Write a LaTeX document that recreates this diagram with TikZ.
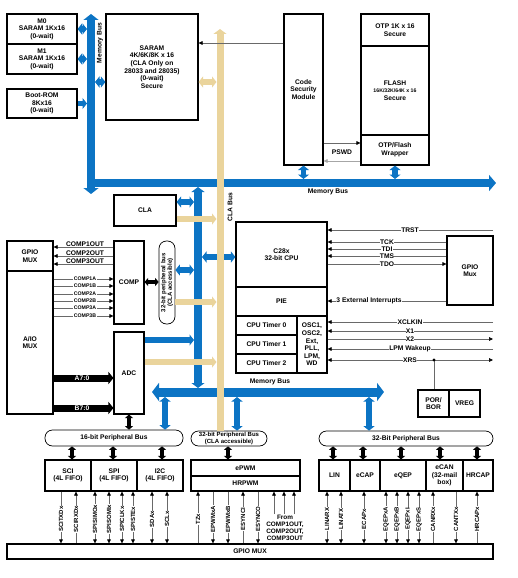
\documentclass[tikz,border=0pt]{standalone}
\usepackage{fontspec}
\setmainfont{Liberation Sans}
\usetikzlibrary{arrows.meta}
\definecolor{busblue}{RGB}{12,116,196}
\definecolor{bustan}{RGB}{234,212,156}
\definecolor{sig}{RGB}{105,105,105}
\newcommand{\mybox}[7][]{\node[box,#1,minimum width={#5-#3},minimum height={#6-#4}] (#2) at ({(#3+#5)/2},{(#4+#6)/2}) {#7};}
\tikzset{
 txt/.style={font=\bfseries\fontsize{6.7}{7.6}\selectfont},
 box/.style={txt,draw=black,line width=1.1pt,fill=white,align=center,inner sep=0pt},
 pill/.style={txt,draw=black,line width=0.7pt,fill=white,align=center,inner sep=0pt,rounded corners=7.5pt},
 lbl/.style={txt,inner sep=0.5pt,align=center},
 wlbl/.style={lbl,fill=white},
 small/.style={font=\bfseries\fontsize{5.2}{6}\selectfont},
 vsmall/.style={font=\bfseries\fontsize{6}{6.6}\selectfont},
 stip/.tip={Triangle[width=3.6pt,length=4pt,color=black]},
 btip/.tip={Triangle[width=11pt,length=4.5pt]},
 ktip/.tip={Triangle[width=8pt,length=3.5pt]},
 bdbl/.style={draw=busblue,line width=5.5pt,btip-btip},
 bone/.style={draw=busblue,line width=5.5pt,-btip},
 tdbl/.style={draw=bustan,line width=5.5pt,btip-btip},
 tone/.style={draw=bustan,line width=5.5pt,-btip},
 kdbl/.style={draw=black,line width=3.5pt,ktip-ktip},
 sigl/.style={draw=sig,line width=0.6pt},
 sigdown/.style={sigl,-stip},
 sigup/.style={sigl,stip-},
 sigboth/.style={sigl,stip-stip},
}
\begin{document}
\begin{tikzpicture}[x=1pt,y=-1pt]
\useasboundingbox (0,0) rectangle (517,578);

% ---------- boxes ----------
\mybox{m0}{7}{14}{77}{44}{M0\\SARAM 1Kx16\\(0-wait)}
\mybox{m1}{7}{44}{77}{74}{M1\\SARAM 1Kx16\\(0-wait)}
\mybox{boot}{7}{89}{77}{118}{Boot-ROM\\8Kx16\\(0-wait)}
\mybox{saram}{106}{14}{198}{120}{SARAM\\4K/6K/8K x 16\\(CLA Only on\\28033 and 28035)\\(0-wait)\\Secure}
\mybox{csm}{284}{14}{323}{165}{Code\\Security\\Module}
\mybox{otp}{361}{14}{429}{46}{OTP 1K x 16\\Secure}
\mybox{flash}{361}{46}{429}{135}{FLASH\\{\fontsize{5.2}{7.6}\selectfont 16K/32K/64K x 16}\\Secure}
\mybox{wrap}{361}{135}{429}{165}{OTP/Flash\\Wrapper}
\mybox{cla}{114}{195}{176}{226}{CLA}
\mybox{comp}{114}{241}{144}{324}{COMP}
\mybox{adc}{114}{332}{144}{414}{ADC}
\mybox{gmux}{7}{241}{53}{271}{GPIO\\MUX}
\mybox{aio}{7}{271}{53}{414}{A/IO\\MUX}
\mybox{cpu}{236}{222}{327}{287}{C28x\\32-bit CPU}
\mybox{pie}{236}{287}{327}{316}{PIE}
\mybox{tzero}{236}{316}{297}{335}{CPU Timer 0}
\mybox{tone}{236}{335}{297}{354}{CPU Timer 1}
\mybox{ttwo}{236}{354}{297}{373}{CPU Timer 2}
\mybox{osc}{297}{316}{327}{373}{OSC1,\\OSC2,\\Ext,\\PLL,\\LPM,\\WD}
\mybox{gmuxr}{447}{236}{493}{305}{GPIO\\Mux}
\mybox{por}{418}{390}{449}{417}{POR/\\BOR}
\mybox{vreg}{449}{390}{480}{417}{VREG}
\mybox{sci}{45}{460}{91}{491}{SCI\\(4L FIFO)}
\mybox{spi}{91}{460}{137}{491}{SPI\\(4L FIFO)}
\mybox{iic}{137}{460}{183}{491}{I2C\\(4L FIFO)}
\mybox{epwm}{191}{460}{300}{476}{ePWM}
\mybox{hrpwm}{191}{476}{300}{491}{HRPWM}
\mybox{lin}{319}{460}{350}{491}{LIN}
\mybox{ecap}{350}{460}{380}{491}{eCAP}
\mybox{eqep}{380}{460}{426}{491}{eQEP}
\mybox{ecan}{426}{460}{463}{491}{eCAN\\(32-mail\\box)}
\mybox{hrcap}{463}{460}{493}{491}{HRCAP}
\mybox{gbot}{7}{544}{493}{559}{GPIO MUX}

\node[pill,minimum width=138,minimum height=16] (pb16) at (114,438) {16-bit Peripheral Bus};
\node[pill,minimum width=76,minimum height=15] (pb32c) at (229,438.5) {};
\node[lbl,vsmall] at (pb32c) {32-bit Peripheral Bus\\(CLA accessible)};
\node[pill,minimum width=174,minimum height=15] (pb32) at (406,438.5) {32-Bit Peripheral Bus};
\node[pill,minimum width=16,minimum height=83] (pbv) at (167,282.5) {};
\node[lbl,vsmall,rotate=90] at (pbv) {32-bit peripheral bus\\(CLA accessible)};

% ---------- blue buses ----------
\draw[draw=busblue,line width=8pt,{Triangle[width=15pt,length=6pt]}-{Triangle[width=15pt,length=6pt]}] (91,14) -- (91,194);
\draw[draw=busblue,line width=8pt,-{Triangle[width=16pt,length=7pt]}] (91,183) -- (496,183);
\draw[draw=busblue,line width=9pt,{Triangle[width=18pt,length=7pt]}-{Triangle[width=18pt,length=7pt]}] (152,392) -- (384,392);
\draw[draw=busblue,line width=7.5pt,{Triangle[width=13pt,length=5pt]}-{Triangle[width=13pt,length=5pt]}] (198,187) -- (198,388);

% blue connectors
\draw[bdbl] (m0.east) -- (87,0 |- m0.east);
\draw[bdbl] (m1.east) -- (87,0 |- m1.east);
\draw[bone] (boot.east) -- (87,0 |- boot.east);
\draw[bdbl] (95,82) -- (saram.west |- 0,82);
\draw[bdbl] (csm.south) -- (csm.south |- 0,179);
\draw[bdbl] (wrap.south) -- (wrap.south |- 0,179);
\draw[bdbl] (cla.east |- 0,202) -- (194,202);
\draw[bdbl] (202,257) -- (cpu.west |- 0,257);
\draw[bdbl] (pbv.east |- 0,270) -- (194,270);
\draw[bone] (adc.east |- 0,340) -- (194,340);
\draw[bdbl] (165,397) -- (165,0 |- pb16.north);
\draw[bdbl] (237,397) -- (237,0 |- pb32c.north);
\draw[bdbl] (369,397) -- (369,0 |- pb32.north);

% ---------- tan ----------
\draw[tdbl] (saram.east |- 0,82) -- (216.5,82);
\draw[tone] (cla.east |- 0,219) -- (216.5,219);
\draw[tone] (pbv.east |- 0,302) -- (216.5,302);
\draw[tone] (adc.east |- 0,362) -- (216.5,362);
\draw[draw=bustan,line width=7pt,{Triangle[width=13pt,length=5pt]}-] (220,29) -- (220,0 |- pb32c.north);

% ---------- black bus arrows ----------
\draw[kdbl] (comp.east |- 0,282) -- (pbv.west |- 0,282);
\draw[kdbl] (adc.south) -- (adc.south |- pb16.north);
\foreach \x in {72,113,162}{\draw[kdbl] (\x,0 |- pb16.south) -- (\x,0 |- sci.north);}
\draw[kdbl] (228,0 |- pb32c.south) -- (228,0 |- epwm.north);
\foreach \x in {333,363,401,440,477}{\draw[kdbl] (\x,0 |- pb32.south) -- (\x,0 |- lin.north);}

\draw[line width=7pt,-{Triangle[width=12pt,length=5pt]}] (aio.east |- 0,378) -- (adc.west |- 0,378);
\node[lbl,text=white] at (82,378) {A7:0};
\draw[line width=7pt,-{Triangle[width=12pt,length=5pt]}] (aio.east |- 0,408) -- (adc.west |- 0,408);
\node[lbl,text=white] at (82,408) {B7:0};

% ---------- signals ----------
\draw[sigl,-stip] (csm.west |- 0,43) -- (saram.east |- 0,43);
\draw[sigl,-stip] (csm.east |- 0,143) -- (wrap.west |- 0,143);
\draw[draw=gray!70,line width=0.6pt,-{Triangle[width=3.6pt,length=4pt,color=gray!70]}] (wrap.west |- 0,161) -- (csm.east |- 0,161);
\node[lbl] at (342,152) {PSWD};

\foreach \y/\t in {247/COMP1OUT,256/COMP2OUT,264/COMP3OUT}{
  \draw[sigl,-stip] (comp.west |- 0,\y) -- (gmux.east |- 0,\y);
  \node[lbl,anchor=south] at (85,\y) {\t};}
\foreach \y/\t in {279/COMP1A,286/COMP1B,294/COMP2A,301/COMP2B,308/COMP3A,316/COMP3B}{
  \draw[sigl,-stip] (aio.east |- 0,\y) -- (comp.west |- 0,\y);
  \node[wlbl,small] at (85,\y) {\t};}

\coordinate (redge) at (493,0);
\draw[sigl,-stip] (redge |- 0,230) -- (cpu.east |- 0,230);
\node[wlbl] at (410,230) {TRST};
\foreach \y/\t in {242/TCK,249/TDI,256/TMS}{
  \draw[sigl,-stip] (gmuxr.west |- 0,\y) -- (cpu.east |- 0,\y);
  \node[wlbl,inner sep=0.2pt] at (387,\y) {\t};}
\draw[sigl,-stip] (cpu.east |- 0,264) -- (gmuxr.west |- 0,264);
\node[wlbl,inner sep=0.2pt] at (387,264) {TDO};
\draw[sigl,-stip] (gmuxr.west |- 0,301) -- (pie.east |- 0,301);
\node[wlbl] at (369,301) {3 External Interrupts};

\draw[sigl,-stip] (redge |- 0,322) -- (osc.east |- 0,322);
\node[wlbl] at (410,322) {XCLKIN};
\draw[sigl,-stip] (redge |- 0,331) -- (osc.east |- 0,331);
\node[wlbl,inner sep=0.2pt] at (410,331) {X1};
\draw[sigl,-stip] (osc.east |- 0,339) -- (redge |- 0,339);
\node[wlbl,inner sep=0.2pt] at (410,339) {X2};
\draw[sigl,-stip] (redge |- 0,349) -- (osc.east |- 0,349);
\node[wlbl] at (410,349) {LPM Wakeup};
\coordinate (xd) at (434,360);
\draw[sigl,-stip] (xd) -- (osc.east |- xd);
\draw[sigl,-stip] (xd) -- (redge |- xd);
\draw[sigl] (xd) -- (xd |- por.north);
\fill (xd) circle (1.6pt);
\node[wlbl] at (410,360) {XRS};

\foreach \x/\n/\s/\t in {61/sci/sigdown/SCITXDx,76/sci/sigup/SCIRXDx,
  95/spi/sigboth/SPISIMOx,109/spi/sigboth/SPISOMIx,122/spi/sigboth/SPICLKx,133/spi/sigboth/SPISTEx,
  152/iic/sigboth/SDAx,167/iic/sigboth/SCLx,
  198/hrpwm/sigup/TZx,213/hrpwm/sigdown/EPWMxA,228/hrpwm/sigdown/EPWMxB,243/hrpwm/sigup/ESYNCI,258/hrpwm/sigdown/ESYNCO,
  327/lin/sigboth/LINARX,341/lin/sigboth/LINATX,364/ecap/sigboth/ECAPx,
  386/eqep/sigboth/EQEPxA,397/eqep/sigboth/EQEPxB,408/eqep/sigboth/EQEPxI,419/eqep/sigboth/EQEPxS,
  433/ecan/sigup/CANRXx,456/ecan/sigdown/CANTXx,477/hrcap/sigup/HRCAPx}{
  \draw[\s] (\x,0 |- \n.south) -- (\x,0 |- gbot.north);
  \node[wlbl,vsmall,rotate=90] at (\x,519) {\t};}

\node[lbl,font=\bfseries\fontsize{6.4}{7}\selectfont] (fromc) at (285,527.5) {From\\COMP1OUT,\\COMP2OUT,\\COMP3OUT};
\foreach \x in {274,284,294}{\draw[sigl,-stip] (\x,0 |- fromc.north) -- (\x,0 |- hrpwm.south);}

% ---------- bus labels ----------
\node[lbl,rotate=90] at (100,43) {Memory Bus};
\node[lbl] at (328,192) {Memory Bus};
\node[lbl] at (270,382) {Memory Bus};
\node[lbl,rotate=90] at (230,207) {CLA Bus};
\end{tikzpicture}
\end{document}
